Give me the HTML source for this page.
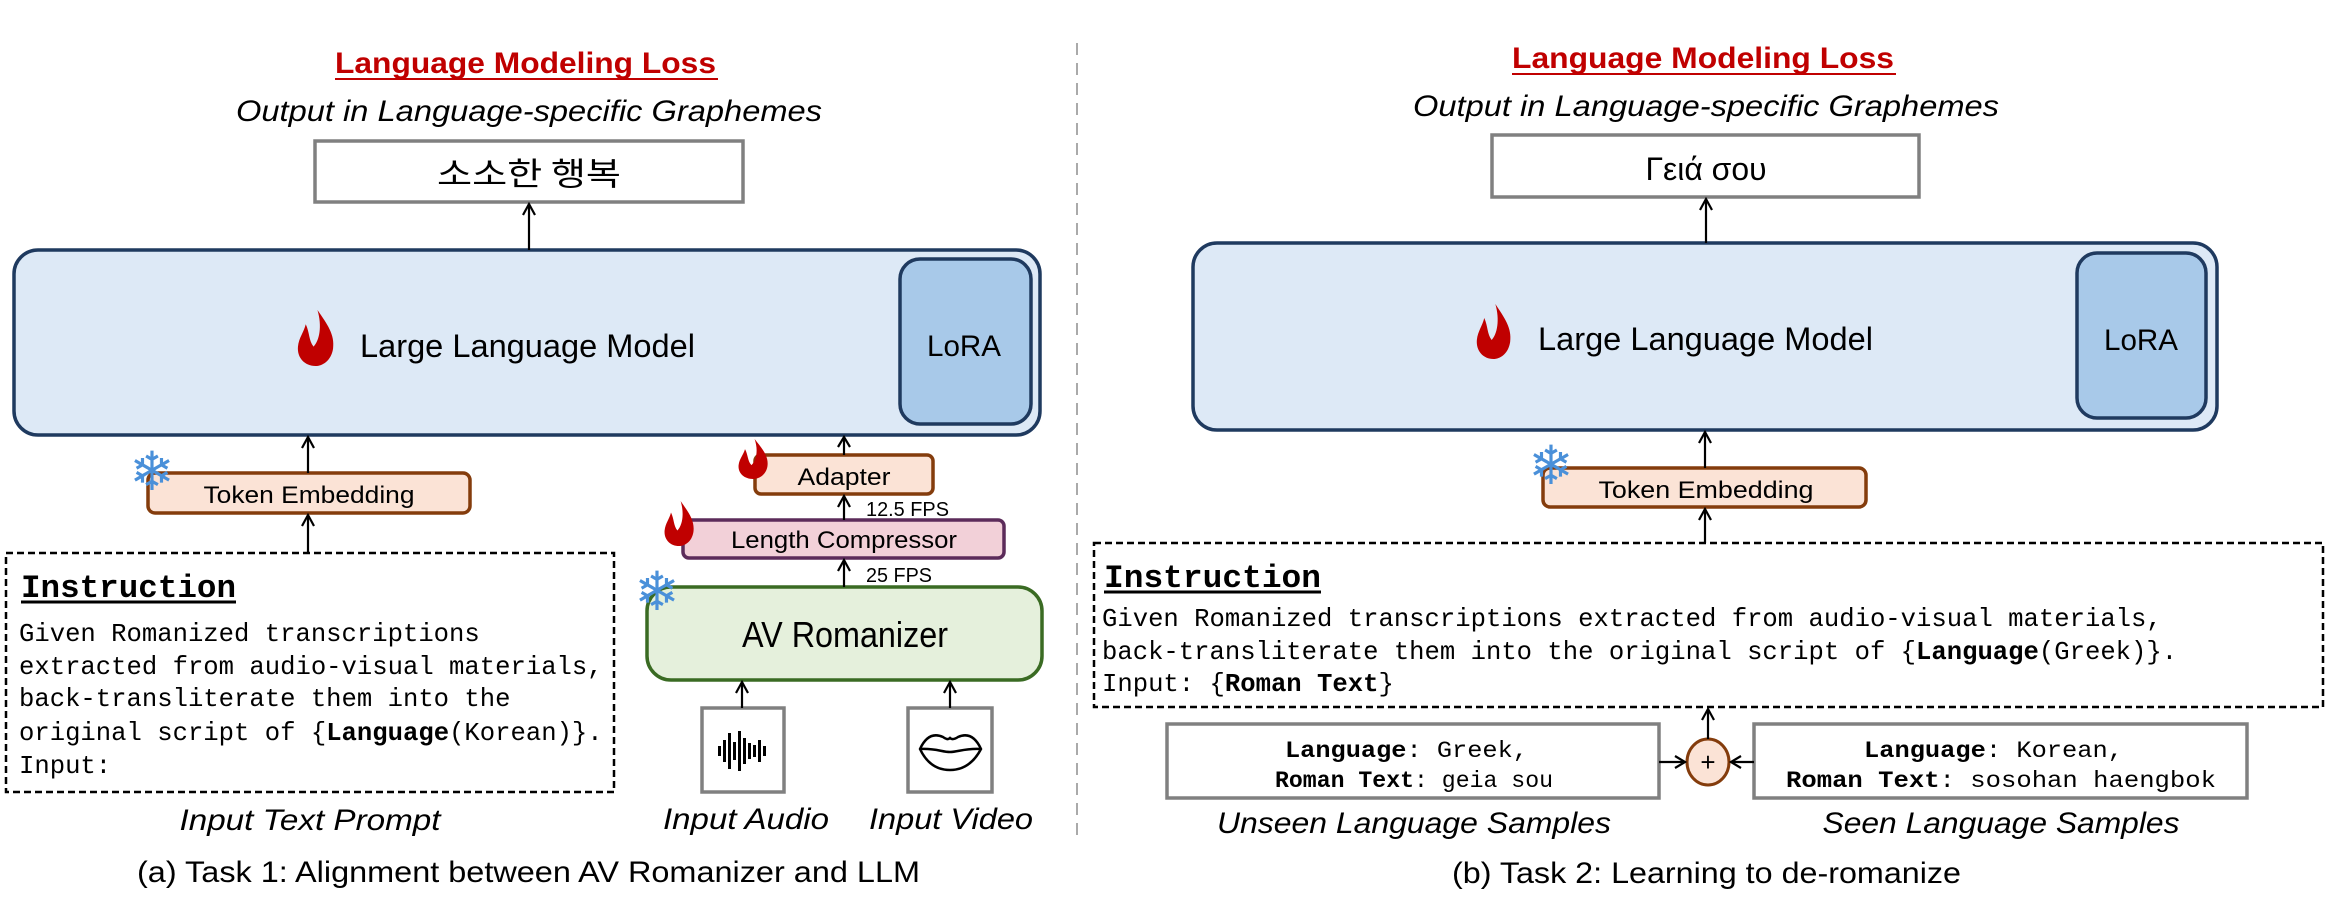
<!DOCTYPE html>
<html><head><meta charset="utf-8"><style>
html,body{margin:0;padding:0;background:#fff;}
svg{display:block;}
.sans{font-family:"Liberation Sans Narrow","Liberation Sans",sans-serif;}
.mono{font-family:"Liberation Mono",monospace;}
</style></head><body>
<svg width="2331" height="899" viewBox="0 0 2331 899" xmlns="http://www.w3.org/2000/svg">
<defs>
<symbol id="flame" viewBox="0 0 40 55" preserveAspectRatio="none">
<path d="M22 0 C32 14 40 24 38 38 C36 50 27 55 20 55 C9 55 1 47 2 36 C3 27 8 22 10 14 C14 22 13 30 18 36 C24 30 27 16 22 0 Z" fill="#c00000"/>
</symbol>
</defs>
<g class="sans">
<line x1="1077" y1="43" x2="1077" y2="840" stroke="#aaa" stroke-width="2" stroke-dasharray="12 8"/>

<!-- LEFT TOP -->
<text x="335" y="73" font-size="30" font-weight="bold" fill="#c00000" textLength="381" lengthAdjust="spacingAndGlyphs">Language Modeling Loss</text>
<line x1="335" y1="79" x2="718" y2="79" stroke="#c00000" stroke-width="2"/>
<text x="236" y="121" font-size="30" font-style="italic" textLength="586" lengthAdjust="spacingAndGlyphs">Output in Language-specific Graphemes</text>
<rect x="315" y="141" width="428" height="61" fill="#fff" stroke="#808080" stroke-width="3.5"/>
<text x="529" y="185" font-size="32" text-anchor="middle" font-family="'Noto Sans CJK KR',sans-serif" textLength="184" lengthAdjust="spacingAndGlyphs">소소한 행복</text>
<rect x="14" y="250" width="1026" height="185" rx="24" fill="#dde9f6" stroke="#1f3a5f" stroke-width="3.5"/>
<rect x="900" y="259" width="131" height="165" rx="20" fill="#a8c9e9" stroke="#1f3a5f" stroke-width="3.5"/>
<text x="927" y="356" font-size="30" textLength="74" lengthAdjust="spacingAndGlyphs">LoRA</text>
<use href="#flame" x="296" y="310" width="39" height="56"/>
<text x="360" y="357" font-size="32" textLength="335" lengthAdjust="spacingAndGlyphs">Large Language Model</text>

<!-- LEFT BOTTOM -->
<rect x="148" y="473" width="322" height="40" rx="7" fill="#fbe3d6" stroke="#843c0c" stroke-width="3.5"/>
<text x="309" y="503" font-size="24" text-anchor="middle" textLength="211" lengthAdjust="spacingAndGlyphs">Token Embedding</text>
<text x="152" y="490" font-size="54" fill="#4a90d9" text-anchor="middle" font-family="'DejaVu Sans',sans-serif">❄</text>
<rect x="6" y="553" width="608" height="239" fill="#fff" stroke="#000" stroke-width="2.5" stroke-dasharray="7 4"/>
<text class="mono" x="21" y="597" font-size="32" font-weight="bold" textLength="215" lengthAdjust="spacingAndGlyphs">Instruction</text>
<line x1="21" y1="602" x2="236" y2="602" stroke="#000" stroke-width="3"/>
<g class="mono" font-size="25.6">
<text x="19" y="641">Given Romanized transcriptions</text>
<text x="19" y="674">extracted from audio-visual materials,</text>
<text x="19" y="706">back-transliterate them into the</text>
<text x="19" y="740">original script of {<tspan font-weight="bold">Language</tspan>(Korean)}.</text>
<text x="19" y="773">Input:</text>
</g>

<rect x="755" y="455" width="178" height="39" rx="6" fill="#fbe3d6" stroke="#843c0c" stroke-width="3.5"/>
<text x="844" y="485" font-size="24" text-anchor="middle" textLength="93" lengthAdjust="spacingAndGlyphs">Adapter</text>
<use href="#flame" x="737" y="439" width="32" height="40"/>
<text x="866" y="516" font-size="20" textLength="83" lengthAdjust="spacingAndGlyphs">12.5 FPS</text>
<rect x="683" y="520" width="321" height="38" rx="6" fill="#f2d0d8" stroke="#5c2b5a" stroke-width="3.5"/>
<text x="844" y="548" font-size="24" text-anchor="middle" textLength="226" lengthAdjust="spacingAndGlyphs">Length Compressor</text>
<use href="#flame" x="663" y="501" width="32" height="45"/>
<text x="866" y="582" font-size="20" textLength="66" lengthAdjust="spacingAndGlyphs">25 FPS</text>
<rect x="647" y="587" width="395" height="93" rx="24" fill="#e5f0dc" stroke="#3a6b23" stroke-width="3.5"/>
<text x="845" y="647" font-size="36" text-anchor="middle" textLength="206" lengthAdjust="spacingAndGlyphs">AV Romanizer</text>
<text x="657" y="610" font-size="54" fill="#4a90d9" text-anchor="middle" font-family="'DejaVu Sans',sans-serif">❄</text>
<rect x="702" y="708" width="82" height="84" fill="#fff" stroke="#808080" stroke-width="3.5"/>
<g fill="#000">
<rect x="718" y="746" width="3" height="10"/><rect x="723" y="740" width="3" height="22"/><rect x="728" y="733" width="3" height="36"/><rect x="733" y="742" width="3" height="18"/><rect x="738" y="731" width="3" height="40"/><rect x="743" y="738" width="3" height="26"/><rect x="748" y="743" width="3" height="16"/><rect x="753" y="745" width="3" height="12"/><rect x="758" y="740" width="3" height="22"/><rect x="763" y="746" width="3" height="10"/>
</g>
<rect x="908" y="708" width="84" height="84" fill="#fff" stroke="#808080" stroke-width="3.5"/>
<path d="M920 749 C926 736 934 733 943 737 C946 739 948 740 950 738 C952 740 955 739 958 737 C967 733 975 736 981 749 C972 766 960 770 950 770 C940 770 928 766 920 749 Z M920 749 C935 748 942 752 950 752 C958 752 965 748 981 749" fill="none" stroke="#000" stroke-width="2.5"/>
<text x="310" y="830" font-size="30" font-style="italic" text-anchor="middle" textLength="261" lengthAdjust="spacingAndGlyphs">Input Text Prompt</text>
<text x="746" y="829" font-size="30" font-style="italic" text-anchor="middle" textLength="166" lengthAdjust="spacingAndGlyphs">Input Audio</text>
<text x="951" y="829" font-size="30" font-style="italic" text-anchor="middle" textLength="164" lengthAdjust="spacingAndGlyphs">Input Video</text>
<text x="137" y="882" font-size="30" textLength="783" lengthAdjust="spacingAndGlyphs">(a) Task 1: Alignment between AV Romanizer and LLM</text>

<!-- RIGHT TOP -->
<text x="1512" y="68" font-size="30" font-weight="bold" fill="#c00000" textLength="382" lengthAdjust="spacingAndGlyphs">Language Modeling Loss</text>
<line x1="1512" y1="74" x2="1896" y2="74" stroke="#c00000" stroke-width="2"/>
<text x="1413" y="116" font-size="30" font-style="italic" textLength="586" lengthAdjust="spacingAndGlyphs">Output in Language-specific Graphemes</text>
<rect x="1492" y="135" width="427" height="62" fill="#fff" stroke="#808080" stroke-width="3.5"/>
<text x="1706" y="180" font-size="32" text-anchor="middle" textLength="121" lengthAdjust="spacingAndGlyphs">Γειά σου</text>
<rect x="1193" y="243" width="1024" height="187" rx="24" fill="#dde9f6" stroke="#1f3a5f" stroke-width="3.5"/>
<rect x="2077" y="253" width="129" height="165" rx="20" fill="#a8c9e9" stroke="#1f3a5f" stroke-width="3.5"/>
<text x="2104" y="350" font-size="30" textLength="74" lengthAdjust="spacingAndGlyphs">LoRA</text>
<use href="#flame" x="1475" y="304" width="37" height="55"/>
<text x="1538" y="350" font-size="32" textLength="335" lengthAdjust="spacingAndGlyphs">Large Language Model</text>

<!-- RIGHT BOTTOM -->
<rect x="1543" y="468" width="323" height="39" rx="7" fill="#fbe3d6" stroke="#843c0c" stroke-width="3.5"/>
<text x="1706" y="498" font-size="24" text-anchor="middle" textLength="215" lengthAdjust="spacingAndGlyphs">Token Embedding</text>
<text x="1551" y="484" font-size="54" fill="#4a90d9" text-anchor="middle" font-family="'DejaVu Sans',sans-serif">❄</text>
<rect x="1094" y="543" width="1229" height="164" fill="#fff" stroke="#000" stroke-width="2.5" stroke-dasharray="7 4"/>
<text class="mono" x="1104" y="587" font-size="32" font-weight="bold" textLength="217" lengthAdjust="spacingAndGlyphs">Instruction</text>
<line x1="1104" y1="592" x2="1321" y2="592" stroke="#000" stroke-width="3"/>
<g class="mono" font-size="25.6">
<text x="1102" y="626">Given Romanized transcriptions extracted from audio-visual materials,</text>
<text x="1102" y="659">back-transliterate them into the original script of {<tspan font-weight="bold">Language</tspan>(Greek)}.</text>
<text x="1102" y="691">Input: {<tspan font-weight="bold">Roman Text</tspan>}</text>
</g>
<rect x="1167" y="724" width="492" height="74" fill="#fff" stroke="#808080" stroke-width="3.5"/>
<rect x="1754" y="724" width="493" height="74" fill="#fff" stroke="#808080" stroke-width="3.5"/>
<g class="mono" font-size="23">
<text x="1285" y="757" textLength="243" lengthAdjust="spacingAndGlyphs"><tspan font-weight="bold">Language</tspan>: Greek,</text>
<text x="1275" y="787" textLength="278" lengthAdjust="spacingAndGlyphs"><tspan font-weight="bold">Roman Text</tspan>: geia sou</text>
<text x="1864" y="757" textLength="259" lengthAdjust="spacingAndGlyphs"><tspan font-weight="bold">Language</tspan>: Korean,</text>
<text x="1786" y="787" textLength="430" lengthAdjust="spacingAndGlyphs"><tspan font-weight="bold">Roman Text</tspan>: sosohan haengbok</text>
</g>
<ellipse cx="1708" cy="762" rx="21" ry="23" fill="#fbe3d6" stroke="#843c0c" stroke-width="3"/>
<text x="1708" y="771" font-size="26" text-anchor="middle">+</text>
<text x="1414" y="833" font-size="30" font-style="italic" text-anchor="middle" textLength="394" lengthAdjust="spacingAndGlyphs">Unseen Language Samples</text>
<text x="2001" y="833" font-size="30" font-style="italic" text-anchor="middle" textLength="357" lengthAdjust="spacingAndGlyphs">Seen Language Samples</text>
<text x="1452" y="883" font-size="30" textLength="509" lengthAdjust="spacingAndGlyphs">(b) Task 2: Learning to de-romanize</text>
</g>

<g stroke="#000" stroke-width="2.2" fill="none">
<line x1="529" y1="250" x2="529" y2="204"/><polyline points="523,215 529,204 535,215"/>
<line x1="308" y1="473" x2="308" y2="437"/><polyline points="302,448 308,437 314,448"/>
<line x1="308" y1="553" x2="308" y2="515"/><polyline points="302,526 308,515 314,526"/>
<line x1="844" y1="455" x2="844" y2="437"/><polyline points="838,447 844,437 850,447"/>
<line x1="844" y1="520" x2="844" y2="496"/><polyline points="838,507 844,496 850,507"/>
<line x1="844" y1="587" x2="844" y2="560"/><polyline points="838,571 844,560 850,571"/>
<line x1="742" y1="708" x2="742" y2="682"/><polyline points="736,693 742,682 748,693"/>
<line x1="950" y1="708" x2="950" y2="682"/><polyline points="944,693 950,682 956,693"/>
<line x1="1706" y1="243" x2="1706" y2="199"/><polyline points="1700,210 1706,199 1712,210"/>
<line x1="1705" y1="468" x2="1705" y2="432"/><polyline points="1699,443 1705,432 1711,443"/>
<line x1="1705" y1="543" x2="1705" y2="509"/><polyline points="1699,520 1705,509 1711,520"/>
<line x1="1708" y1="739" x2="1708" y2="709"/><polyline points="1702,720 1708,709 1714,720"/>
<line x1="1659" y1="762" x2="1685" y2="762"/><polyline points="1675,756 1685,762 1675,768"/>
<line x1="1754" y1="762" x2="1731" y2="762"/><polyline points="1741,756 1731,762 1741,768"/>
</g>
</svg>
</body></html>
